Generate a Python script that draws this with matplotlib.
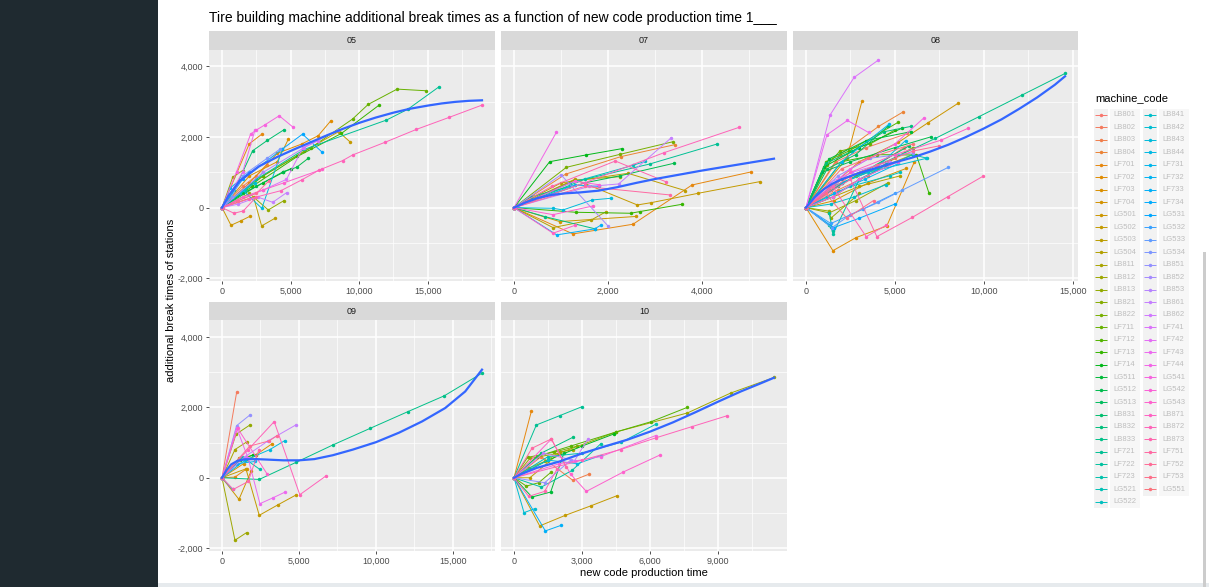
import numpy as np
import matplotlib
matplotlib.use("Agg")
import matplotlib.pyplot as plt
from matplotlib.patches import Rectangle
from matplotlib.ticker import FuncFormatter

plt.rcParams['font.family'] = ['Liberation Sans', 'DejaVu Sans']

title = "Tire building machine additional break times as a function of new code production time 1___"
x_label = "new code production time"
y_label = "additional break times of stations"
legend_title = "machine_code"

# machine codes (legend labels are blurred in the source)
codes = ("LB801 LB802 LB803 LB804 LF701 LF702 LF703 LF704 LG501 LG502 LG503 LG504 "
         "LB811 LB812 LB813 LB821 LB822 LF711 LF712 LF713 LF714 LG511 LG512 LG513 "
         "LB831 LB832 LB833 LF721 LF722 LF723 LG521 LG522 "
         "LB841 LB842 LB843 LB844 LF731 LF732 LF733 LF734 LG531 LG532 LG533 LG534 "
         "LB851 LB852 LB853 LB861 LB862 LF741 LF742 LF743 LF744 LG541 LG542 LG543 "
         "LB871 LB872 LB873 LF751 LF752 LF753 LG551").split()

# (machine index, production times, break times)
lines_05 = [
    (1, [0, 1500, 2500, 3300], [0, 600, 900, 1200]),
    (4, [0, 1990, 2936], [0, 1808, 2090]),
    (5, [0, 2000, 4029, 5800, 7014, 7936], [0, 700, 1537, 1800, 2037, 2461]),
    (6, [0, 2000, 4029, 4830], [0, 900, 1300, 1933]),
    (8, [0, 655, 1359, 2039], [0, -500, -377, -245]),
    (9, [0, 3000, 6000, 8500, 9320], [0, 900, 1600, 2150, 1867]),
    (10, [0, 2300, 2888, 3859], [0, 300, -519, -302]),
    (13, [0, 776, 1500], [0, 858, 1050]),
    (14, [0, 2000, 3373, 4514], [0, 400, -66, 198]),
    (17, [0, 3000, 6500, 9514, 10655, 12766, 14900], [0, 900, 1700, 2508, 2923, 3357, 3310]),
    (19, [0, 2200, 5500, 8700, 11455], [0, 600, 1450, 2100, 2904]),
    (20, [0, 1500, 3000, 4466, 5000], [0, 400, 700, 1000, 1100]),
    (22, [0, 2500, 4466, 5437, 6286], [0, 600, 1018, 1141, 1396]),
    (24, [0, 900, 2232, 3300, 4515], [0, 500, 1610, 1903, 2205]),
    (27, [0, 2500, 6000, 11990, 13567, 15824], [0, 800, 1650, 2480, 2791, 3423]),
    (29, [0, 1700, 3000], [0, 500, 1000]),
    (33, [0, 1300, 2400], [0, 400, 700]),
    (34, [0, 1500, 2900, 4400], [0, 500, -20, 1650]),
    (37, [0, 580, 2000], [0, 550, 1000]),
    (40, [0, 1500, 4400, 5870, 7301], [0, 800, 1660, 2081, 1570]),
    (43, [0, 700, 1500, 3300, 4200], [0, 300, 900, 1400, 1650]),
    (46, [0, 3000, 6000, 8470], [0, 1000, 1700, 2197]),
    (47, [0, 1200, 2600, 3700, 4708], [0, 100, 300, 150, 424]),
    (49, [0, 3000, 4700, 5900, 7000], [0, 500, 800, 1700, 1900]),
    (51, [0, 1500, 2403], [0, 1000, 2197]),
    (53, [0, 1067, 2086, 2450, 3130, 4171, 5194], [0, 1022, 2081, 2185, 2346, 2602, 2274]),
    (55, [0, 1500, 3000, 4500, 7257], [0, 300, 500, 700, 1080]),
    (57, [0, 2000, 4300, 5800, 7100, 8786, 9514, 11868, 14174, 16552, 18955],
         [0, 250, 480, 783, 1066, 1330, 1490, 1848, 2216, 2555, 2904]),
    (58, [0, 874, 1553, 2500], [0, -160, -94, 300]),
    (60, [0, 1200, 2500, 3400], [0, 200, 400, 750]),
]
smooth_05_x = [0, 500, 1300, 2700, 4000, 5200, 6400, 7600, 8800, 10000, 11200, 12500, 13700,
               15000, 16000, 17000, 18000, 18955]
smooth_05_y = [0, 350, 760, 1170, 1430, 1640, 1840, 2040, 2230, 2400, 2550, 2690, 2800,
               2890, 2950, 2995, 3025, 3040]

lines_07 = [
    (3, [0, 1100, 2269, 3417], [0, 950, 1443, 1782]),
    (4, [0, 1255, 2531, 3786, 5034], [0, -745, -471, 641, 1009]),
    (8, [0, 971, 2600], [0, -396, -250]),
    (9, [0, 1290, 2623, 2921, 3914, 5225], [0, 801, 75, 141, 405, 735]),
    (10, [0, 1000, 2425, 3644], [0, 700, 971, 481]),
    (11, [0, 830, 1645, 1950], [0, -566, -349, -123]),
    (13, [0, 1290, 2247], [0, 780, 877]),
    (16, [0, 1113, 2255, 3382], [0, 1141, 1509, 1867]),
    (19, [0, 1312, 2482, 2673, 3573], [0, -132, -160, -113, 94]),
    (20, [0, 759, 1524, 2290], [0, 1301, 1490, 1669]),
    (22, [0, 1500, 2250, 3396], [0, 700, 900, 1254]),
    (25, [0, 652, 1730], [0, -254, -603]),
    (26, [0, 369, 1200], [0, 311, 600]),
    (27, [0, 1500, 2886, 4318], [0, 800, 1235, 1801]),
    (31, [0, 1200, 2531, 2793], [0, 700, 1198, 1311]),
    (34, [0, 830, 1042, 1666, 2056], [0, -19, -66, 217, 264]),
    (37, [0, 1290, 1800], [0, 641, 600]),
    (38, [0, 908, 1716, 1843], [0, -773, -603, -500]),
    (45, [0, 1000, 2000], [0, 930, -519]),
    (47, [0, 1600, 2226, 3346], [0, 600, 670, 1980]),
    (52, [0, 900], [0, 2130]),
    (54, [0, 1290, 1800], [0, 750, 650]),
    (55, [0, 830, 1680], [0, -200, 47]),
    (56, [0, 830, 1300], [0, -726, -500]),
    (57, [0, 1500, 3190, 4786], [0, 700, 1556, 2273]),
    (58, [0, 800, 2155, 3226], [0, 600, 1320, 735]),
    (59, [0, 1500, 3325], [0, 600, 358]),
]
smooth_07_x = [0, 250, 500, 800, 1100, 1400, 1800, 2200, 2600, 3000, 3500, 4000, 4500, 5000, 5530]
smooth_07_y = [0, 150, 270, 360, 405, 430, 480, 580, 700, 810, 930, 1050, 1160, 1270, 1386]

lines_08 = [
    (0, [0, 2000, 4000, 5500], [0, 800, 1200, 1700]),
    (1, [0, 1700, 3400, 5700], [0, 1300, 1700, 2100]),
    (2, [0, 1800, 3500, 5000], [0, 500, 900, 1400]),
    (3, [0, 1900, 4080, 5449], [0, 1500, 2298, 2706]),
    (5, [0, 1517, 2810, 4550, 6100], [0, -1220, -851, -519, 1300]),
    (6, [0, 2300, 3146], [0, 1400, 3007]),
    (7, [0, 1600, 3500, 5654], [0, 200, 700, 1113]),
    (8, [0, 3000, 5200, 6867, 8546], [0, 1300, 1850, 2405, 2952]),
    (9, [0, 1400, 2800, 4500, 6000], [0, 500, 900, 1200, 1500]),
    (11, [0, 1500, 3000, 5300], [0, 300, 600, 900]),
    (13, [0, 1300, 2800, 4600], [0, -150, 200, 700]),
    (14, [0, 1300, 1400, 3000], [0, -100, -300, 400]),
    (15, [0, 2000, 4000, 6000], [0, 700, 1100, 1700]),
    (17, [0, 1200, 1900, 3600, 5000], [0, 1200, 1600, 1800, 2200]),
    (18, [0, 1136, 2400, 5168], [0, 1305, 1600, 2412]),
    (19, [0, 2000, 4000, 6214, 6923], [0, 1300, 1500, 1490, 405]),
    (20, [0, 1000, 3000, 5400], [0, 1150, 1700, 2250]),
    (21, [0, 1300, 3400, 5900], [0, 1380, 1900, 2150]),
    (22, [0, 900, 2500, 5000, 7053], [0, 1000, 1300, 1700, 2009]),
    (23, [0, 1200, 2800, 4600], [0, 1100, 1500, 2300]),
    (24, [0, 1800, 3200, 5800], [0, 600, 1000, 1750]),
    (25, [0, 1100, 2600, 4400, 5900], [0, 1250, 1600, 2150, 2300]),
    (26, [0, 2000, 4500, 7277, 9722, 12148, 14573], [0, 800, 1300, 1961, 2574, 3187, 3800]),
    (27, [0, 1300, 1500, 1300], [0, -500, -650, -150]),
    (28, [0, 1404, 1523, 3000, 4500], [0, -539, -746, 800, 1200]),
    (29, [0, 1500, 3000, 6000, 6800], [0, 300, 800, 1500, 1400]),
    (31, [0, 1200, 2500, 4700, 5300], [0, 300, 600, 900, 1000]),
    (32, [0, 1400, 2700, 4500], [0, 100, 300, 650]),
    (33, [0, 1500, 3500, 6774], [0, 600, 1000, 1396]),
    (35, [0, 2000, 3900, 5600], [0, 700, 1100, 1900]),
    (36, [0, 2000, 4684], [0, 1300, 2367]),
    (37, [0, 1600, 3300, 5200], [0, 400, 800, 1250]),
    (39, [0, 1564, 3000, 5000], [0, -567, -300, 100]),
    (41, [0, 1400, 3203, 5000], [0, -450, -44, 400]),
    (42, [0, 1461, 2500, 4080, 5393, 8005], [0, -570, -200, 149, 488, 1141]),
    (44, [0, 1800, 3600, 6000], [0, 900, 1400, 1550]),
    (48, [0, 1300, 2600, 4700], [0, 700, 1000, 1300]),
    (49, [0, 1365, 2706, 4068], [0, 2630, 3687, 4178]),
    (51, [0, 1178, 2336, 3520], [0, 2061, 2469, 2128]),
    (53, [0, 2500, 5000, 6643], [0, 1100, 1800, 2546]),
    (54, [0, 1500, 3000, 5200], [0, 300, 800, 1300]),
    (56, [0, 2500, 5000, 7613, 9106], [0, 1000, 1500, 1914, 2244]),
    (57, [0, 1500, 3388, 4500], [0, 600, -823, -500]),
    (58, [0, 2500, 3989, 5990, 7986, 9983], [0, 800, -823, -274, 311, 896]),
    (60, [0, 2500, 4000, 6000, 7500], [0, 900, 1200, 1600, 1750]),
    (61, [0, 1100, 2300, 3800], [0, 400, -300, 200]),
    (62, [0, 2000, 3500, 6000], [0, 1100, 1400, 1800]),
]
smooth_08_x = [0, 500, 1000, 1500, 2000, 3000, 4000, 5000, 6000, 7000, 8000, 9000, 10000,
               11000, 12000, 13000, 14000, 14573]
smooth_08_y = [0, 300, 520, 680, 800, 980, 1130, 1280, 1420, 1590, 1780, 2000, 2240,
               2500, 2800, 3120, 3480, 3720]

lines_09 = [
    (1, [0, 950], [0, 2424]),
    (4, [0, 842, 1598], [0, 19, 254]),
    (6, [0, 1400, 2200, 3240], [0, 400, 650, 962]),
    (8, [0, 1102, 1900], [0, -613, 200]),
    (9, [0, 1555, 2419, 3650, 4838], [0, 254, -1066, -764, -481]),
    (10, [0, 1100, 2203], [0, 550, 650]),
    (12, [0, 842, 1642], [0, 801, 1028]),
    (13, [0, 842, 1598], [0, -1773, -1556]),
    (14, [0, 907, 1814], [0, 1235, 1499]),
    (20, [0, 1200, 2000], [0, 500, 650]),
    (26, [0, 2419, 4838, 7214, 9634, 12074, 14450, 16891], [0, -47, 443, 934, 1405, 1877, 2329, 2970]),
    (29, [0, 1300, 2462], [0, 600, 236]),
    (34, [0, 1500, 3110, 4082], [0, 500, 801, 1056]),
    (37, [0, 1000, 2138], [0, 400, 462]),
    (39, [0, 691], [0, -330]),
    (44, [0, 950, 1814], [0, 1480, 1782]),
    (47, [0, 1500, 3000, 4795], [0, 600, 1050, 1499]),
    (51, [0, 950, 1700, 2462, 3326, 4104], [0, 1420, 550, -736, -566, -405]),
    (55, [0, 1015, 2950], [0, 1405, 94]),
    (57, [0, 1700, 3391, 5054, 6739], [0, 800, 1594, -481, 47]),
    (58, [0, 734, 1706, 2400], [0, -330, -104, 800]),
    (60, [0, 1800, 3067, 3586], [0, 900, 1047, 1198]),
]
smooth_09_x = [0, 300, 600, 1000, 1500, 2200, 3000, 4000, 5000, 6000, 7200, 8500, 10000,
               11500, 13000, 14500, 15800, 16891]
smooth_09_y = [0, 220, 380, 480, 525, 530, 515, 495, 495, 530, 640, 800, 1010,
               1280, 1600, 1980, 2450, 3070]

lines_10 = [
    (2, [0, 1200, 2602, 3300], [0, 600, -75, 100]),
    (4, [0, 764], [0, 1886]),
    (9, [0, 1132, 2264, 3410, 4542], [0, -1367, -1066, -792, -509]),
    (10, [0, 700, 2000], [0, 0, 700]),
    (12, [0, 647, 1352, 2014, 2600], [0, 273, 462, 726, 800]),
    (13, [0, 700, 2000, 4500, 7644, 9555, 11466], [0, 550, 700, 1300, 1839, 2405, 2848]),
    (16, [0, 600, 1764, 2800], [0, 580, 726, 900]),
    (17, [0, 544, 1088, 1617], [0, -236, -141, 150]),
    (18, [0, 1000, 2500, 4500, 6056, 7644], [0, 600, 900, 1300, 1594, 1999]),
    (20, [0, 1500, 3000, 4410], [0, 500, 900, 1245]),
    (21, [0, 794, 1617, 2200], [0, -547, -405, 700]),
    (25, [0, 1200, 2600], [0, 700, 1150]),
    (27, [0, 985, 2014, 2999], [0, 1499, 1763, 2018]),
    (28, [0, 1205, 2558, 3822], [0, -264, 207, 962]),
    (30, [0, 1500, 3000, 4733, 6277], [0, 600, 700, 1009, 1528]),
    (33, [0, 441, 911], [0, -990, -877]),
    (34, [0, 1500, 2800, 3822], [0, 500, 400, 632]),
    (38, [0, 1382, 2087], [0, -1509, -1348]),
    (44, [0, 1352, 2500], [0, -141, 500]),
    (47, [0, 1300, 2675, 3263], [0, 700, 490, 1103]),
    (53, [0, 2000, 3822, 6248], [0, 400, 600, 1198]),
    (55, [0, 1646, 2500, 3190, 4807, 6453], [0, 1100, 100, -387, 160, 651]),
    (57, [0, 3000, 4704, 6248, 7850, 9408], [0, 500, 802, 1132, 1452, 1763]),
    (58, [0, 647, 1352, 1900], [0, -528, -387, 250]),
    (59, [0, 794, 1646, 2300], [0, 839, 1103, 300]),
]
smooth_10_x = [0, 300, 1000, 2000, 3000, 4000, 5000, 6000, 7000, 8000, 9000, 10000, 10800, 11466]
smooth_10_y = [0, 100, 280, 460, 690, 890, 1080, 1310, 1570, 1860, 2160, 2450, 2660, 2840]


def hue_pal(n):
    # ggplot2 default: hcl(h, c=100, l=65)
    h = np.deg2rad(15 + 360 * np.arange(n) / n)
    L, C = 65.0, 100.0
    u, v = C * np.cos(h), C * np.sin(h)
    xn, yn, zn = 0.95047, 1.0, 1.08883
    d = xn + 15 * yn + 3 * zn
    up = u / (13 * L) + 4 * xn / d
    vp = v / (13 * L) + 9 * yn / d
    Y = yn * ((L + 16) / 116) ** 3
    X = Y * 9 * up / (4 * vp)
    Z = Y * (12 - 3 * up - 20 * vp) / (4 * vp)
    M = np.array([[3.2406, -1.5372, -0.4986],
                  [-0.9689, 1.8758, 0.0415],
                  [0.0557, -0.2040, 1.0570]])
    rgb = M @ np.vstack([X, np.full(n, Y), Z])
    rgb = np.clip(rgb, 0, None)
    rgb = np.where(rgb > 0.0031308, 1.055 * rgb ** (1 / 2.4) - 0.055, 12.92 * rgb)
    return np.clip(rgb.T, 0, 1)


colors = hue_pal(len(codes))

W, H = 1209, 587
fig = plt.figure(figsize=(W / 100, H / 100), dpi=100)
fig.patch.set_facecolor('white')

# dark side bar, bottom band, scrollbar
fig.patches.append(Rectangle((0, 0), 158 / W, 1, transform=fig.transFigure,
                             facecolor='#1f2a30', edgecolor='none', zorder=0))
fig.patches.append(Rectangle((158 / W, 0), 1, 4 / H, transform=fig.transFigure,
                             facecolor='#e6eaed', edgecolor='none', zorder=0))
fig.patches.append(Rectangle((1203 / W, 0), 3 / W, (H - 252) / H, transform=fig.transFigure,
                             facecolor='#cccccc', edgecolor='none', zorder=0))

ylim = (-2079, 4479)
fmt = FuncFormatter(lambda v, p: f"{int(v):,}")

panels = [
    ("05", lines_05, smooth_05_x, smooth_05_y, [0, 5000, 10000, 15000], (209, 495, 31, 49.5, 281), True),
    ("07", lines_07, smooth_07_x, smooth_07_y, [0, 2000, 4000], (501, 787, 31, 49.5, 281), False),
    ("08", lines_08, smooth_08_x, smooth_08_y, [0, 5000, 10000, 15000], (793, 1078, 31, 49.5, 281), False),
    ("09", lines_09, smooth_09_x, smooth_09_y, [0, 5000, 10000, 15000], (209, 495, 302, 320, 551), True),
    ("10", lines_10, smooth_10_x, smooth_10_y, [0, 3000, 6000, 9000], (501, 787, 302, 320, 551), False),
]

for name, lines, sx, sy, xt, (x0, x1, st, top, bot), show_y in panels:
    ax = fig.add_axes([x0 / W, 1 - bot / H, (x1 - x0) / W, (bot - top) / H])
    ax.set_facecolor('#EBEBEB')
    for s in ax.spines.values():
        s.set_visible(False)
    xmax = max(max(max(l[1]) for l in lines), max(sx))
    ax.set_xlim(-0.05 * xmax, 1.05 * xmax)
    ax.set_ylim(*ylim)
    step = xt[1] - xt[0]
    ax.set_xticks(xt)
    ax.set_xticks(np.arange(step / 2, xmax * 1.05, step), minor=True)
    ax.set_yticks([-2000, 0, 2000, 4000])
    ax.set_yticks([-1000, 1000, 3000], minor=True)
    ax.grid(True, which='major', color='white', linewidth=1.1)
    ax.grid(True, which='minor', color='white', linewidth=0.5)
    ax.set_axisbelow(True)
    ax.xaxis.set_major_formatter(fmt)
    ax.yaxis.set_major_formatter(fmt)
    ax.tick_params(which='major', length=2.5, width=0.6, color='#333333',
                   labelsize=6.5, labelcolor='#4D4D4D', pad=1.5)
    ax.tick_params(which='minor', length=0)
    if not show_y:
        ax.tick_params(axis='y', length=0, labelleft=False)

    for idx, xs, ys in sorted(lines, key=lambda t: t[0]):
        ax.plot(xs, ys, color=colors[idx], linewidth=0.7, marker='o',
                markersize=2.5, markeredgewidth=0, zorder=2)
    ax.plot(sx, sy, color='#3366FF', linewidth=1.6, zorder=3,
            solid_joinstyle='round')

    # facet strip
    sh = (top - st) / (bot - top)
    ax.add_patch(Rectangle((0, 1), 1, sh, transform=ax.transAxes, clip_on=False,
                           facecolor='#D9D9D9', edgecolor='none'))
    ax.text(0.5, 1 + sh / 2, name, transform=ax.transAxes, ha='center', va='center',
            fontsize=6.5, color='#1A1A1A')

fig.text(209 / W, 1 - 18 / H, title, fontsize=10, va='center', ha='left', color='black')
fig.text(644 / W, 1 - 573 / H, x_label, fontsize=8, ha='center', va='center', color='black')
fig.text(171 / W, 1 - 300 / H, y_label, fontsize=8, ha='center', va='center',
         rotation=90, color='black')

# legend drawn in pixel coordinates
lg = fig.add_axes([1085 / W, 0, 124 / W, 1])
lg.set_xlim(1085, 1209)
lg.set_ylim(H, 0)
lg.axis('off')
lg.text(1095, 98, legend_title, fontsize=8, va='center', ha='left', color='black')
nrow = int(np.ceil(len(codes) / 2))
for i, code in enumerate(codes):
    col, row = divmod(i, nrow)
    kx = 1101 if col == 0 else 1150
    ky = 115 + row * 12.48
    lg.add_patch(Rectangle((kx - 7, ky - 6.24), 14, 12.48, facecolor='#F2F2F2', edgecolor='none'))
    lg.add_patch(Rectangle((kx + 9, ky - 6.24), 30, 12.48, facecolor='#F7F7F7', edgecolor='none'))
    lg.plot([kx - 6, kx + 6], [ky, ky], color=colors[i], linewidth=0.7,
            solid_capstyle='butt')
    lg.plot([kx], [ky], color=colors[i], marker='o', markersize=2.5, markeredgewidth=0)
    lg.text(kx + 12, ky, code, fontsize=5.5, va='center', ha='left', color='#bdbdbd')

fig.savefig("out.png", dpi=100)
